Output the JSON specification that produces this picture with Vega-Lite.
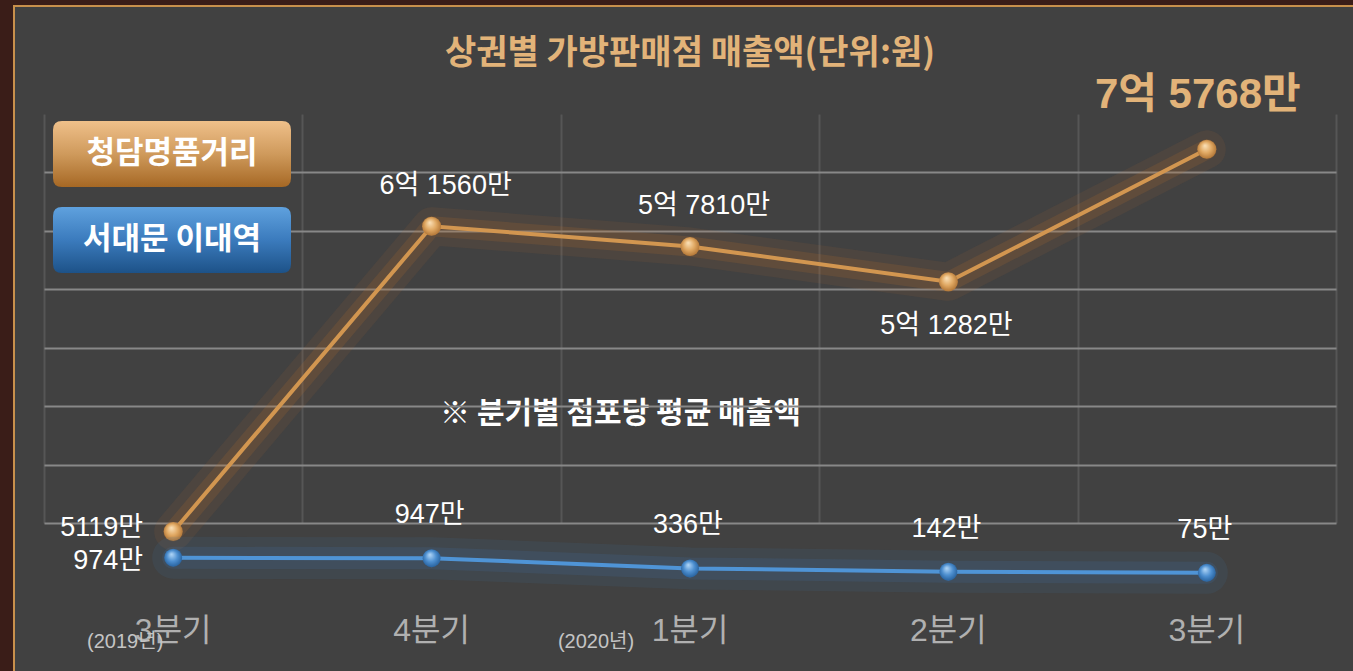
{
  "$schema": "https://vega.github.io/schema/vega-lite/v6.json",
  "width": 1352,
  "height": 670,
  "autosize": "none",
  "padding": {"left": 14, "top": 6, "right": -13, "bottom": -5},
  "background": "#3a1d18",
  "view": {"fill": "#414141", "stroke": "#c8904c", "strokeWidth": 2},
  "config": {
    "view": {"fill": "#414141", "stroke": "#c8904c", "strokeWidth": 2},
    "font": "Noto Sans CJK KR"
  },
  "title": {
    "text": "상권별 가방판매점 매출액(단위:원)",
    "anchor": "middle",
    "frame": "group",
    "orient": "top",
    "offset": -99,
    "baseline": "bottom",
    "fontSize": 34,
    "fontWeight": "bold",
    "color": "#e2b379",
    "font": "Noto Sans CJK KR"
  },
  "datasets": {
    "sales": [
      {"quarter": "2019년 3분기", "series": "청담명품거리", "value": 5119, "label": "5119만"},
      {"quarter": "2019년 4분기", "series": "청담명품거리", "value": 61560, "label": "6억 1560만"},
      {"quarter": "2020년 1분기", "series": "청담명품거리", "value": 57810, "label": "5억 7810만"},
      {"quarter": "2020년 2분기", "series": "청담명품거리", "value": 51282, "label": "5억 1282만"},
      {"quarter": "2020년 3분기", "series": "청담명품거리", "value": 75768, "label": "7억 5768만"},
      {"quarter": "2019년 3분기", "series": "서대문 이대역", "value": 974, "label": "974만"},
      {"quarter": "2019년 4분기", "series": "서대문 이대역", "value": 947, "label": "947만"},
      {"quarter": "2020년 1분기", "series": "서대문 이대역", "value": 336, "label": "336만"},
      {"quarter": "2020년 2분기", "series": "서대문 이대역", "value": 142, "label": "142만"},
      {"quarter": "2020년 3분기", "series": "서대문 이대역", "value": 75, "label": "75만"}
    ]
  },
  "data": {"name": "sales"},
  "layer": [
    {
      "transform": [{"filter": "datum.series === '청담명품거리'"}],
      "encoding": {
        "x": {
          "field": "quarter", "type": "ordinal", "bandPosition": 0.5,
          "scale": {"type": "band", "domain": ["2019년 3분기", "2019년 4분기", "2020년 1분기", "2020년 2분기", "2020년 3분기"], "paddingInner": 0, "paddingOuter": 0.1161},
          "axis": {
            "orient": "top", "offset": -108, "domain": false, "labels": false, "ticks": true,
            "tickSize": -409, "tickWidth": 2, "tickColor": "#565656", "tickBand": "extent",
            "grid": false, "title": null
          }
        },
        "y": {
          "field": "value", "type": "quantitative",
          "scale": {"domain": [0, 80000], "range": [553.25, 120.44], "nice": false, "zero": false},
          "axis": {
            "orient": "left", "offset": -30, "domain": false, "labels": false, "ticks": true,
            "tickSize": -1292, "tickWidth": 2, "grid": false, "title": null,
            "values": [82300, 71500, 60700, 49900, 39100, 28300, 17500, 6700],
            "encode": {"ticks": {"update": {"stroke": {"signal": "datum.value < 7000 ? '#474747' : datum.value < 20000 ? '#4e4e4e' : '#565656'"}}}}
          }
        }
      },
      "layer": [
        {"mark": {"type": "line", "color": "#b8702e", "strokeWidth": 38, "opacity": 0.1, "strokeCap": "round", "strokeJoin": "round"}, "encoding": {}},
        {"mark": {"type": "line", "color": "#b8702e", "strokeWidth": 20, "opacity": 0.18, "strokeCap": "round", "strokeJoin": "round"}, "encoding": {}},
        {
          "mark": {"type": "line", "strokeWidth": 4},
          "encoding": {
            "color": {
              "field": "series", "type": "nominal",
              "scale": {"domain": ["청담명품거리", "서대문 이대역"], "range": ["#d29650", "#4f94d6"]},
              "legend": {
                "orient": "none", "legendX": 39, "legendY": 115, "title": null, "padding": 0,
                "symbolType": "M-3.3334,-1L3.3334,-1Q3.6061,-1 3.6061,-0.7273L3.6061,0.7273Q3.6061,1 3.3334,1L-3.3334,1Q-3.6061,1 -3.6061,0.7273L-3.6061,-0.7273Q-3.6061,-1 -3.3334,-1Z",
                "symbolSize": 4356, "symbolOffset": 86, "rowPadding": 20,
                "labelOffset": -33, "labelAlign": "center", "labelBaseline": "middle",
                "labelFontSize": 31, "labelFontWeight": "bold", "labelColor": "#ffffff",
                "labelFont": "Noto Sans CJK KR", "labelLimit": 400,
                "encode": {
                  "symbols": {
                    "update": {
                      "fill": [
                        {"test": "datum.value === '청담명품거리'", "value": {"gradient": "linear", "x1": 0, "y1": 0, "x2": 0, "y2": 1, "stops": [{"offset": 0, "color": "#efc08a"}, {"offset": 0.5, "color": "#cf9a5c"}, {"offset": 1, "color": "#a66824"}]}},
                        {"value": {"gradient": "linear", "x1": 0, "y1": 0, "x2": 0, "y2": 1, "stops": [{"offset": 0, "color": "#5fa1de"}, {"offset": 0.5, "color": "#3b7bbd"}, {"offset": 1, "color": "#1d5288"}]}}
                      ],
                      "stroke": {"value": "transparent"},
                      "strokeWidth": {"value": 0},
                      "opacity": {"value": 1}
                    }
                  }
                }
              }
            }
          }
        },
        {
          "mark": {"type": "point", "filled": true, "size": 361, "strokeWidth": 0, "opacity": 1,
            "fill": {"gradient": "radial", "x1": 0.4, "y1": 0.3, "r1": 0, "x2": 0.5, "y2": 0.5, "r2": 0.6,
              "stops": [{"offset": 0, "color": "#fbe2ba"}, {"offset": 0.5, "color": "#e0a862"}, {"offset": 1, "color": "#a4672a"}]}}
        },
        {
          "transform": [{"filter": "datum.quarter === '2019년 3분기'"}],
          "mark": {"type": "text", "align": "right", "baseline": "middle", "dx": -30, "dy": -4, "fontSize": 27, "color": "#ffffff", "font": "Liberation Sans, Noto Sans CJK KR"},
          "encoding": {"text": {"field": "label"}}
        },
        {
          "transform": [{"filter": "datum.quarter === '2019년 4분기' || datum.quarter === '2020년 1분기'"}],
          "mark": {"type": "text", "align": "center", "baseline": "middle", "dx": 14, "dy": -40, "fontSize": 27, "color": "#ffffff", "font": "Liberation Sans, Noto Sans CJK KR"},
          "encoding": {"text": {"field": "label"}}
        },
        {
          "transform": [{"filter": "datum.quarter === '2020년 2분기'"}],
          "mark": {"type": "text", "align": "center", "baseline": "middle", "dx": -2, "dy": 44, "fontSize": 27, "color": "#ffffff", "font": "Liberation Sans, Noto Sans CJK KR"},
          "encoding": {"text": {"field": "label"}}
        }
      ]
    },
    {
      "transform": [{"filter": "datum.series === '서대문 이대역'"}],
      "encoding": {
        "x": {
          "field": "quarter", "type": "ordinal", "bandPosition": 0.5,
          "scale": {"type": "band", "domain": ["2019년 3분기", "2019년 4분기", "2020년 1분기", "2020년 2분기", "2020년 3분기"], "paddingInner": 0, "paddingOuter": 0.1161},
          "axis": {
            "orient": "bottom", "domain": false, "ticks": false, "grid": false,
            "labelExpr": "split(datum.label, ' ')[1]",
            "labelFont": "Liberation Sans, Noto Sans CJK KR", "labelFontSize": 32, "labelColor": "#b0b0b0",
            "labelPadding": -46, "labelBaseline": "middle", "labelAngle": 0,
            "title": "※ 분기별 점포당 평균 매출액", "titleX": 606, "titleY": -263,
            "titleFontSize": 30, "titleFontWeight": "bold", "titleColor": "#ffffff",
            "titleFont": "Noto Sans CJK KR", "titleBaseline": "middle", "titleAlign": "center"
          }
        },
        "y": {
          "field": "value", "type": "quantitative",
          "scale": {"domain": [0, 1000], "range": [568, 551.3], "nice": false, "zero": false},
          "axis": null
        }
      },
      "layer": [
        {"mark": {"type": "line", "color": "#3f6f9f", "strokeWidth": 42, "opacity": 0.14, "strokeCap": "round", "strokeJoin": "round"}, "encoding": {}},
        {"mark": {"type": "line", "color": "#3f6f9f", "strokeWidth": 22, "opacity": 0.2, "strokeCap": "round", "strokeJoin": "round"}, "encoding": {}},
        {
          "mark": {"type": "line", "strokeWidth": 4},
          "encoding": {"color": {"field": "series", "type": "nominal", "scale": {"domain": ["청담명품거리", "서대문 이대역"], "range": ["#d29650", "#4f94d6"]}}}
        },
        {
          "mark": {"type": "point", "filled": true, "size": 324, "strokeWidth": 0, "opacity": 1,
            "fill": {"gradient": "radial", "x1": 0.4, "y1": 0.3, "r1": 0, "x2": 0.5, "y2": 0.5, "r2": 0.6,
              "stops": [{"offset": 0, "color": "#b4d8f8"}, {"offset": 0.5, "color": "#4d8fd0"}, {"offset": 1, "color": "#1d5590"}]}}
        },
        {
          "transform": [{"filter": "datum.quarter === '2019년 3분기'"}],
          "mark": {"type": "text", "align": "right", "baseline": "middle", "dx": -30, "dy": 3, "fontSize": 27, "color": "#ffffff", "font": "Liberation Sans, Noto Sans CJK KR"},
          "encoding": {"text": {"field": "label"}}
        },
        {
          "transform": [{"filter": "datum.quarter !== '2019년 3분기'"}],
          "mark": {"type": "text", "align": "center", "baseline": "middle", "dx": -2, "dy": -43, "fontSize": 27, "color": "#ffffff", "font": "Liberation Sans, Noto Sans CJK KR"},
          "encoding": {"text": {"field": "label"}}
        }
      ]
    },
    {
      "transform": [{"filter": "datum.series === '청담명품거리' && datum.quarter === '2020년 3분기'"}],
      "encoding": {
        "x": {
          "field": "quarter", "type": "ordinal", "bandPosition": 0.5,
          "scale": {"type": "band", "domain": ["2019년 3분기", "2019년 4분기", "2020년 1분기", "2020년 2분기", "2020년 3분기"], "paddingInner": 0, "paddingOuter": 0.1161},
          "axis": {
            "orient": "bottom", "domain": false, "ticks": false, "grid": false, "title": null,
            "labelExpr": "datum.value == '2019년 3분기' ? '(2019년)' : datum.value == '2020년 1분기' ? '(2020년)' : ''",
            "labelFont": "Liberation Sans, Noto Sans CJK KR", "labelFontSize": 20, "labelColor": "#c4c4c4",
            "labelPadding": -35, "labelBaseline": "middle", "labelAngle": 0,
            "labelOffset": {"condition": {"test": "datum.value == '2019년 3분기'", "value": -48}, "value": -94}
          }
        },
        "y": {
          "field": "value", "type": "quantitative",
          "scale": {"domain": [0, 80000], "range": [553.25, 120.44], "nice": false, "zero": false},
          "axis": null
        },
        "text": {"field": "label"}
      },
      "mark": {"type": "text", "align": "center", "baseline": "middle", "dx": -9, "dy": -54, "fontSize": 42, "fontWeight": "bold", "color": "#e2b379", "font": "Liberation Sans, Noto Sans CJK KR"}
    }
  ],
  "resolve": {"scale": {"y": "independent"}, "axis": {"x": "independent", "y": "independent"}}
}
